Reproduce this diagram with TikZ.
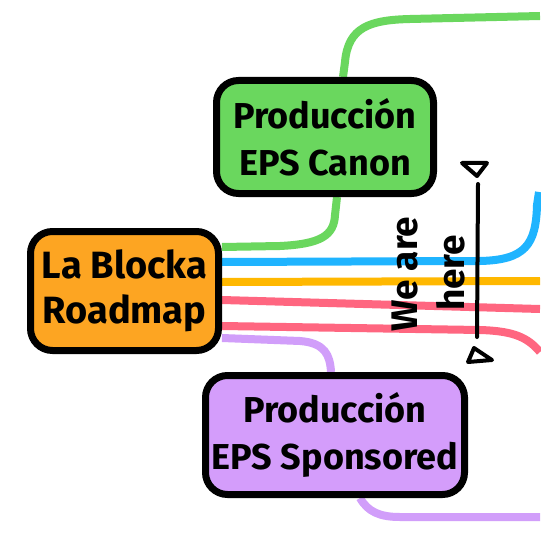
\documentclass[tikz,border=0pt]{standalone}
\usepackage{fontspec}
\setmainfont{Fira Sans}
\usetikzlibrary{backgrounds}
\definecolor{cgreen}{HTML}{6AD75E}
\definecolor{cblue}{HTML}{1FB4FF}
\definecolor{camber}{HTML}{FFB800}
\definecolor{cpink}{HTML}{FF6680}
\definecolor{cpurpleline}{HTML}{D19EFA}
\definecolor{corange}{HTML}{FDA522}
\definecolor{cpurple}{HTML}{D49DFB}
\begin{document}
\begin{tikzpicture}[x=1pt,y=-1pt,
  track/.style={line width=8pt},
  box/.style={draw=black, line width=7pt, rounded corners=22pt, inner sep=0pt, align=center,
     font=\bfseries\fontsize{36}{47}\selectfont},
  marker/.style={draw=black, line width=4pt, line join=round, line cap=round},
  herelabel/.style={font=\bfseries\fontsize{37}{40}\selectfont, rotate=90, inner sep=0pt}]
\useasboundingbox (0,0) rectangle (540,540);
% boxes
\node[box, fill=corange, minimum width=188pt, minimum height=119pt,
      font=\bfseries\fontsize{38}{45}\selectfont] (main) at (124.5,291) {La Blocka\\Roadmap};
\node[box, fill=cgreen, minimum width=217pt, minimum height=113pt] (canon) at (325,137) {Producción\\EPS Canon};
\node[box, fill=cpurple, minimum width=259pt, minimum height=119pt] (spons) at (335,435) {Producción\\EPS Sponsored};
% free ends
\coordinate (gE) at (540,16);
\coordinate (bE) at (539,192);
\coordinate (aE) at (540,281);
\coordinate (p1E) at (540,309);
\coordinate (p2E) at (540,352);
\coordinate (uE) at (540,517);
% tracks behind the boxes
\begin{pgfonlayer}{background}
\fill[white] (0,0) rectangle (540,540);
\draw[track, cgreen] ([yshift=44pt]main.east) -- (280,246) .. controls (320,244) and (334,236) .. (335,215) -- ([xshift=12pt]canon.south);
\draw[track, cgreen] ([xshift=18pt]canon.north) -- (345,62) .. controls (348,27) and (370,20) .. (410,19) -- (gE);
\draw[track, cblue] ([yshift=29pt]main.east) -- (480,261) .. controls (525,260) and (536,245) .. (537,205) -- (bE);
\draw[track, camber] ([yshift=9pt]main.east) -- (aE);
\draw[track, cpink] ([yshift=-9pt]main.east) -- (p1E);
\draw[track, cpink] ([yshift=-35pt]main.east) -- (480,330) .. controls (515,331) and (528,338) .. (p2E);
\draw[track, cpurpleline] ([yshift=-47pt]main.east) -- (300,341) .. controls (325,343) and (330,355) .. ([xshift=-4pt]spons.north);
\draw[track, cpurpleline] ([xshift=25pt]spons.south) .. controls (368,512) and (380,517) .. (400,517) -- (uE);
\end{pgfonlayer}
% marker
\coordinate (mtop) at (478,184);
\coordinate (mbot) at (477,337);
\draw[marker] (mtop) -- (mbot);
\draw[marker, fill=white] (462,163) -- (487,163) -- (477,176) -- cycle;
\draw[marker, fill=white] (474,348) -- (492,360) -- (468,362) -- cycle;
\node[herelabel] (weare) at (405,274) {We are};
\node[herelabel] (here) at (451,273) {here};
\end{tikzpicture}
\end{document}
